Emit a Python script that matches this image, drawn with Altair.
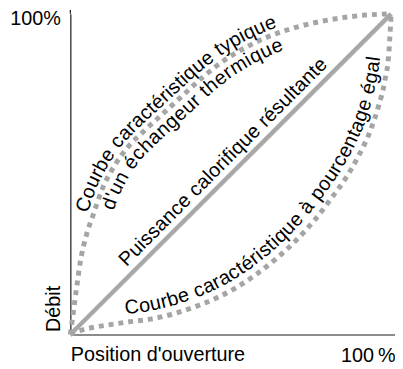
import math
import numpy as np
import pandas as pd
import altair as alt

# ---- data (percent) ----
top_x = [0, 1, 2, 3, 5, 7, 10, 14, 18, 23, 29, 35, 41, 48, 55, 62, 70, 78, 85, 92, 100]
top_y = [0, 7.5, 15, 22, 31, 37, 45.5, 53, 58.5, 63.5, 69, 74.5, 80, 85.5, 89.7, 93, 95.7, 97.6, 98.8, 99.6, 100]

bot_x = [0, 3, 7, 12, 18, 25, 32, 39, 46, 52, 58, 64, 70, 76, 81, 86, 90, 93.5, 96, 98, 99.3, 100]
bot_y = [0, 1.2, 2.2, 3.0, 3.9, 4.8, 6.4, 8.7, 11.6, 14.8, 18.8, 23.5, 29, 35.5, 42, 49, 56, 63.5, 71, 79, 88, 100]

diag_x = [0, 100]
diag_y = [0, 100]

axis_top = [100, 101.2]             # short continuation of the y axis line above 100 %

label_texts = ["Courbe caractéristique typique", "d'un échangeur thermique",
               "Puissance calorifique résultante", "Courbe caractéristique à pourcentage égal"]
label_curves = ["top", "top", "diag", "bottom"]
label_offsets = [6, -18, 8, 8]      # px from curve (positive = left of travel)
label_starts = [124, 130, 88, 60]   # px along curve
label_sizes = [20, 20, 20, 20]
label_spacing = [0.2, 0.5, 0.2, 0.4]  # extra px between letters

top_label = "100%"
right_label = "100\u2009%"
x_title = "Position d'ouverture"
y_title = "Débit"

FONT = "Liberation Sans"
W = 328
H = 324
X_DOMAIN = 101.2
Y_DOMAIN = 100
K = W / X_DOMAIN

ARIAL = {' ': 278, "'": 191, 'C': 722, 'P': 667, 'a': 556, 'b': 556, 'c': 500, 'd': 556,
         'e': 556, 'é': 556, 'à': 556, 'f': 278, 'g': 556, 'h': 556, 'i': 222, 'l': 222,
         'm': 833, 'n': 556, 'o': 556, 'p': 556, 'q': 556, 'r': 333, 's': 500, 't': 278,
         'u': 556, 'y': 500, 'v': 500}

curves = {"top": (top_x, top_y), "bottom": (bot_x, bot_y), "diag": (diag_x, diag_y)}


def layout(text, xs, ys, offset, start, size, spacing):
    P = np.column_stack([np.array(xs, float) * K, np.array(ys, float) * K])
    n = len(P)
    T = np.zeros_like(P)
    for i in range(n):
        d = P[min(i + 1, n - 1)] - P[max(i - 1, 0)]
        T[i] = d / np.hypot(d[0], d[1])
    N = np.column_stack([-T[:, 1], T[:, 0]])
    Q = P + N * offset
    seg = np.hypot(*np.diff(Q, axis=0).T)
    cum = np.concatenate([[0], np.cumsum(seg)])

    def at(s):
        return np.array([np.interp(s, cum, Q[:, 0]), np.interp(s, cum, Q[:, 1])])

    rows = []
    s = start
    for ch in text:
        w = ARIAL.get(ch, 556) / 1000 * size + spacing
        c = s + w / 2
        p = at(c)
        d = at(c + 6) - at(c - 6)
        theta = math.degrees(math.atan2(d[1], d[0]))
        rows.append(dict(x=p[0] / K, y=p[1] / K, ch=ch, angle=(-theta) % 360, fs=size))
        s += w
    return rows


rows = []
for t, c, o, s0, fs, sp in zip(label_texts, label_curves, label_offsets, label_starts,
                               label_sizes, label_spacing):
    rows += layout(t, *curves[c], o, s0, fs, sp)
chars = pd.DataFrame(rows)

xscale = alt.Scale(domain=[0, X_DOMAIN], nice=False, zero=False)
yscale = alt.Scale(domain=[0, Y_DOMAIN], nice=False, zero=False)

x_axis = alt.Axis(values=[100], labelExpr="'" + right_label + "'", ticks=False, tickSize=0,
                  grid=False, domainColor="#1a1a1a", domainWidth=1.2, labelFont=FONT,
                  labelFontSize=20, labelColor="black", labelAlign="right",
                  labelBaseline="alphabetic", labelPadding=27, labelOffset=4, labelFlush=False,
                  title=x_title, titleFont=FONT, titleFontSize=20, titleFontWeight="normal",
                  titleColor="black", titleAlign="left", titleBaseline="alphabetic",
                  titleX=0, titleY=26)
y_axis = alt.Axis(values=[100], labelExpr="'" + top_label + "'", ticks=False, tickSize=0,
                  grid=False, domainColor="#1a1a1a", domainWidth=1.2, labelFont=FONT,
                  labelFontSize=20, labelColor="black", labelAlign="right",
                  labelBaseline="alphabetic", labelPadding=10, labelOffset=11.3, labelFlush=False,
                  title=y_title, titleFont=FONT, titleFontSize=20, titleFontWeight="normal",
                  titleColor="black", titleAngle=270, titleAlign="left", titleBaseline="alphabetic",
                  titleX=-11, titleY=321)


def X(field):
    return alt.X(field, type="quantitative", scale=xscale, axis=x_axis)


def Y(field):
    return alt.Y(field, type="quantitative", scale=yscale, axis=y_axis)


top_df = pd.DataFrame({"x": top_x, "y": top_y})
bot_df = pd.DataFrame({"x": bot_x, "y": bot_y})
diag_df = pd.DataFrame({"x": diag_x, "y": diag_y})
axis_df = pd.DataFrame({"x": [0, 0], "y": axis_top})

dot_style = dict(color="#a5a5a5", strokeWidth=5, strokeDash=[5, 5], interpolate="monotone")

top_line = alt.Chart(top_df).mark_line(**dot_style).encode(x=X("x"), y=Y("y"), order="x:Q")
bot_line = alt.Chart(bot_df).mark_line(**dot_style).encode(x=X("x"), y=Y("y"), order="x:Q")
diag_line = alt.Chart(diag_df).mark_line(color="#a8a8a8", strokeWidth=4.5).encode(x=X("x"), y=Y("y"))
axis_ext = alt.Chart(axis_df).mark_line(color="#1a1a1a", strokeWidth=1.2).encode(
    x=X("x"), y=Y("y"))

text = alt.Chart(chars).mark_text(font=FONT, align="center", baseline="alphabetic",
                                  color="black").encode(
    x=X("x"), y=Y("y"), text="ch:N",
    angle=alt.Angle("angle:Q", scale=None),
    size=alt.Size("fs:Q", scale=None),
)

chart = alt.layer(axis_ext, diag_line, top_line, bot_line, text).properties(
    width=W, height=H,
    autosize=alt.AutoSizeParams(type="none"),
    padding={"left": 63, "top": 4, "right": 0, "bottom": 33},
    background="white",
).configure_view(stroke=None)

chart.save("out.html", embed_options={"renderer": "svg", "actions": False})
